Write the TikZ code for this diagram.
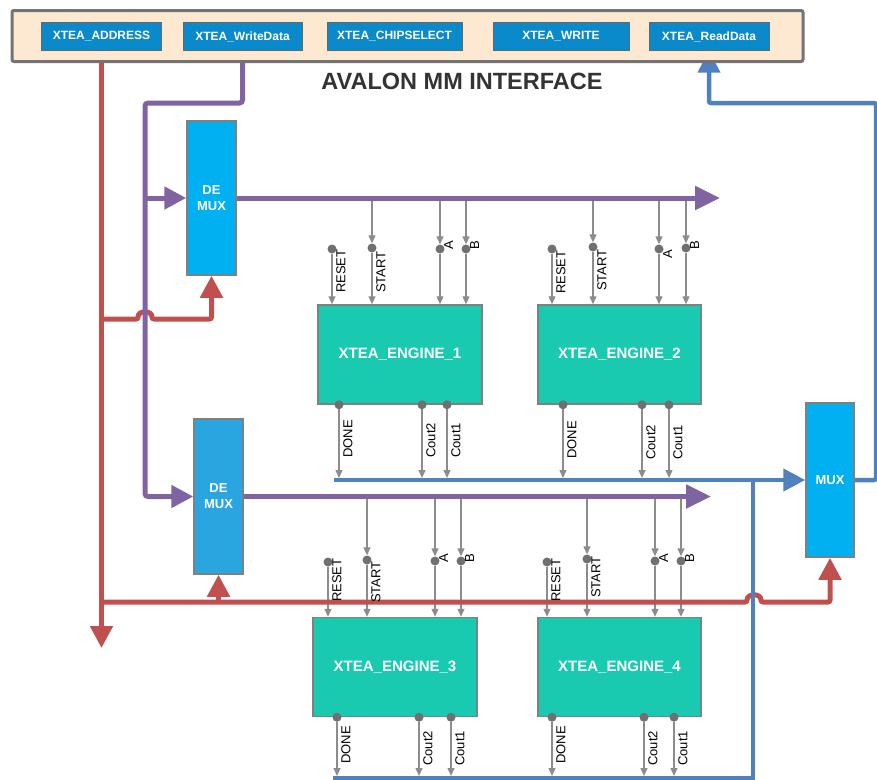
\documentclass[tikz,border=0pt]{standalone}
\usepackage{fontspec}
\setmainfont{Liberation Sans}
\usetikzlibrary{arrows.meta}

\definecolor{addrred}{RGB}{192,80,77}
\definecolor{datapurple}{RGB}{128,100,162}
\definecolor{outblue}{RGB}{79,129,189}
\definecolor{peach}{RGB}{253,233,210}
\definecolor{btnblue}{RGB}{10,137,203}
\definecolor{muxcyan}{RGB}{0,176,240}
\definecolor{muxcyanb}{RGB}{41,165,224}
\definecolor{engteal}{RGB}{26,202,176}
\definecolor{pingray}{RGB}{112,112,112}
\definecolor{siggray}{RGB}{140,140,140}

\pgfdeclarelayer{sig}
\pgfdeclarelayer{bus}
\pgfsetlayers{sig,bus,main}

\tikzset{
  btn/.style={draw=black!60, fill=btnblue, text=white, inner sep=0pt,
    font=\fontsize{12}{14}\selectfont\bfseries, minimum height=28pt},
  engine/.style={draw=black!50, line width=1.5pt, fill=engteal, text=white,
    font=\fontsize{15}{17}\selectfont\bfseries, minimum width=164pt, minimum height=99pt},
  muxbox/.style={draw=black!50, line width=1.5pt, fill=muxcyan, text=white, align=center,
    font=\fontsize{13}{16}\selectfont\bfseries, minimum width=49pt, minimum height=154pt},
  pin/.style={circle, fill=pingray, inner sep=0pt, minimum size=9pt},
  sig/.style={draw=siggray, line width=1.3pt, -{Triangle[width=7pt,length=8pt]}},
  plabel/.style={rotate=90, anchor=north west, inner sep=1pt, font=\fontsize{13}{15}\selectfont},
  bigtip/.style={-{Triangle[width=22pt,length=22pt]}},
  redbus/.style={draw=addrred, line width=5pt, rounded corners=2pt},
  purplebus/.style={draw=datapurple, line width=5pt, rounded corners=3pt},
  bluebus/.style={draw=outblue, line width=4.5pt, rounded corners=2pt}
}

\begin{document}
\begin{tikzpicture}[x=1pt,y=-1pt]
    \useasboundingbox (0,0) rectangle (877,779);

    % avalon interface
    \node[draw=black!55, line width=3pt, fill=peach, rounded corners=2pt,
      minimum width=791pt, minimum height=51pt] (avalon) at (407.5,36) {};
    \node[btn, minimum width=120pt] (addr) at (101.5,36.5) {XTEA\_ADDRESS};
    \node[btn, minimum width=119pt] (wdata) at (242.5,36.5) {XTEA\_WriteData};
    \node[btn, minimum width=135pt] (csel) at (394.5,36.5) {XTEA\_CHIPSELECT};
    \node[btn, minimum width=136pt] (wr) at (561,36.5) {XTEA\_WRITE};
    \node[btn, minimum width=120pt] (rdata) at (709,36.5) {XTEA\_ReadData};
    \node[text=black!80, font=\fontsize{23.5}{27}\selectfont\bfseries] (title) at (462,81) {AVALON MM INTERFACE};

    % mux blocks
    \node[muxbox] (dmxA) at (211.5,198) {DE\\MUX};
    \node[muxbox, fill=muxcyanb, minimum height=155pt] (dmxB) at (218.5,496.5) {DE\\MUX};
    \node[muxbox, minimum width=48pt] (mux) at (830,480) {MUX};

    % engines
    \node[engine] (eng1) at (400,354.5) {XTEA\_ENGINE\_1};
    \node[engine, minimum width=163pt] (eng2) at (619.5,354.5) {XTEA\_ENGINE\_2};
    \node[engine] (eng3) at (395,667) {XTEA\_ENGINE\_3};
    \node[engine, minimum width=163pt] (eng4) at (619.5,667) {XTEA\_ENGINE\_4};

    \coordinate (rend) at (102,648);
    \coordinate (ra) at (addr.south |- 0,319);
    \coordinate (rb) at (addr.south |- 0,602);
    \coordinate (pc) at (145,103);
    \coordinate (pendA) at (720,198);
    \coordinate (pendB) at (711,496.5);
    \coordinate (busA) at (334,480);
    \coordinate (busB) at (333,778);
    \coordinate (tap) at (753,480);
    \coordinate (retc) at (876,103);

    \begin{pgfonlayer}{bus}
    % address lines
    \draw[redbus, bigtip] (addr.south) -- (rend -| addr.south);
    \draw[redbus, bigtip] (ra) -- (138,319) .. controls (138,310) and (152,310) .. (152,319) -| (dmxA.south);
    \draw[redbus, bigtip] (rb) -- (747,602) .. controls (747,593) and (761,593) .. (761,602) -| (mux.south);
    \draw[redbus, bigtip] (rb -| dmxB.south) -- (dmxB.south);
    % write data
    \draw[purplebus, bigtip] (wdata.south) |- (pc) |- (dmxB.west);
    \draw[purplebus, bigtip] (pc |- dmxA.west) -- (dmxA.west);
    \draw[purplebus, -{Triangle[width=23pt,length=25pt]}] (dmxA.east) -- (pendA);
    \draw[purplebus, -{Triangle[width=23pt,length=25pt]}] (dmxB.east) -- (pendB);
    % read data
    \draw[bluebus, bigtip] (busA) -- (mux.west);
    \draw[bluebus] (tap) -- (753,785);
    \draw[bluebus] (busB) -- (busB -| tap);
    \draw[bluebus, bigtip] (mux.east) -| (retc) -| (rdata.south);
    \end{pgfonlayer}

    % engine inputs
    \foreach \e/\px/\py/\ly/\txt in {
        eng1/332/249/294/RESET, eng1/372/248/294/START, eng1/440/249/251/A, eng1/466/249/251/B,
        eng2/552/249/295/RESET, eng2/593/247/292/START, eng2/659/249/260/A, eng2/686/248/251/B,
        eng3/328/562/603/RESET, eng3/367/560/604/START, eng3/435/561/564/A, eng3/461/561/564/B,
        eng4/547/562/603/RESET, eng4/587/559/599/START, eng4/655/561/564/A, eng4/681/561/564/B} {
        \node[pin] (\e\txt) at (\px,\py) {};
        \begin{pgfonlayer}{sig}
            \draw[sig] (\e\txt) -- (\e\txt |- \e.north);
        \end{pgfonlayer}
        \node[plabel] at (\px+3,\ly) {\txt};
    }

    \begin{pgfonlayer}{sig}
    \foreach \p/\d in {eng1START/dmxA, eng1A/dmxA, eng1B/dmxA, eng2START/dmxA, eng2A/dmxA, eng2B/dmxA,
        eng3START/dmxB, eng3A/dmxB, eng3B/dmxB, eng4START/dmxB, eng4A/dmxB, eng4B/dmxB}
        \draw[sig] (\p |- \d.east) -- (\p.north);
    \end{pgfonlayer}

    % engine outputs
    \foreach \e/\px/\ly/\txt/\b in {
        eng1/339/459/DONE/busA, eng1/422/459/Cout2/busA, eng1/447/459/Cout1/busA,
        eng2/563/460/DONE/busA, eng2/642/461/Cout2/busA, eng2/669/461/Cout1/busA,
        eng3/337/765/DONE/busB, eng3/419/767/Cout2/busB, eng3/451/767/Cout1/busB,
        eng4/552/765/DONE/busB, eng4/644/767/Cout2/busB, eng4/674/767/Cout1/busB} {
        \node[pin] (\e\txt) at (\px,0 |- \e.south) {};
        \begin{pgfonlayer}{sig}
            \draw[sig, shorten >=2pt] (\e\txt) -- (\e\txt |- \b);
        \end{pgfonlayer}
        \node[plabel] at (\px+3,\ly) {\txt};
    }
\end{tikzpicture}
\end{document}
